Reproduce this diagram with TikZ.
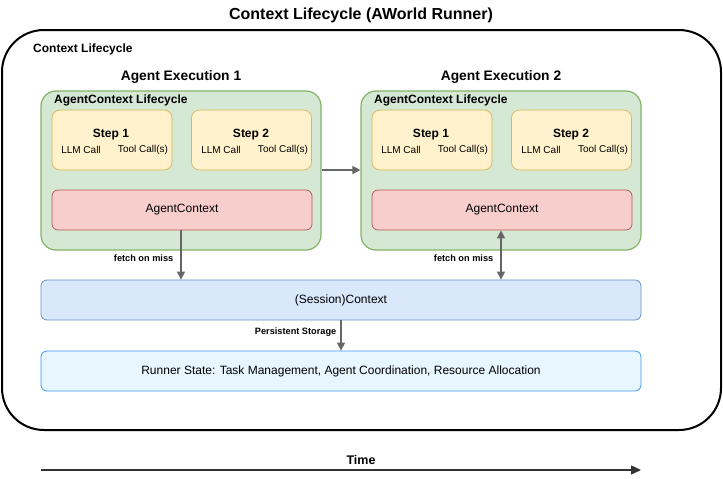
\documentclass[tikz,border=0pt]{standalone}
\usepackage{fontspec}
\setmainfont{Liberation Sans}
\usetikzlibrary{arrows.meta,positioning}

\definecolor{agentfill}{HTML}{D5E8D4}
\definecolor{agentline}{HTML}{82B366}
\definecolor{stepfill}{HTML}{FFF2CC}
\definecolor{stepline}{HTML}{D6B656}
\definecolor{ctxfill}{HTML}{F8CECC}
\definecolor{ctxline}{HTML}{B85450}
\definecolor{sessfill}{HTML}{DAE8FC}
\definecolor{sessline}{HTML}{6C8EBF}
\definecolor{runfill}{HTML}{E8F6FF}
\definecolor{runline}{HTML}{3D97F0}
\definecolor{flowgray}{HTML}{666666}

\tikzset{
  agentbox/.style={draw=agentline, fill=agentfill, line width=1.2pt, rounded corners=15pt,
    minimum width=280pt, minimum height=159pt, inner sep=0pt},
  stepbox/.style={draw=stepline, fill=stepfill, line width=0.7pt, rounded corners=8pt,
    minimum width=120pt, minimum height=60pt, inner sep=0pt},
  ctxbox/.style={draw=ctxline, fill=ctxfill, line width=0.7pt, rounded corners=6pt,
    minimum width=260pt, minimum height=40pt, font=\fontsize{12}{14}\selectfont},
  widebox/.style={line width=0.8pt, rounded corners=6pt,
    minimum width=600pt, minimum height=40pt, font=\fontsize{12}{14}\selectfont},
  flow/.style={draw=flowgray, line width=1.5pt, -{Triangle[length=8pt,width=8pt]}},
  steptitle/.style={font=\bfseries\fontsize{12}{14}\selectfont},
  steptext/.style={font=\fontsize{10}{12}\selectfont},
  heading/.style={font=\bfseries\fontsize{13.8}{16}\selectfont},
  small/.style={font=\bfseries\fontsize{9.2}{11}\selectfont, inner sep=1pt},
  boxlabel/.style={font=\bfseries\fontsize{12}{14}\selectfont, anchor=west, inner sep=0pt}
}

\begin{document}
\begin{tikzpicture}[x=1pt,y=-1pt]
  \useasboundingbox (0,0) rectangle (723,479);

  % title and outer frame
  \node[font=\bfseries\fontsize{16}{19}\selectfont] (title) at (361,15) {Context Lifecycle (AWorld Runner)};
  \draw[line width=2pt, rounded corners=42pt] (2,30) rectangle (721,430);
  \node[boxlabel] (frame) at (33,49) {Context Lifecycle};

  % agent executions
  \node[heading] (head1) at (181,77) {Agent Execution 1};
  \node[heading] (head2) at (501,77) {Agent Execution 2};

  \node[agentbox] (ag1) at (181,170.5) {};
  \node[agentbox] (ag2) at (501,170.5) {};
  \node[boxlabel] (lc1) at (54,100) {AgentContext Lifecycle};
  \node[boxlabel] (lc2) at (374,100) {AgentContext Lifecycle};

  \foreach \ex/\x in {1/0,2/320} {
    \node[stepbox] (s\ex a) at (112+\x,140) {};
    \node[stepbox] (s\ex b) at (251.5+\x,140) {};
    \node[steptitle] at (111+\x,135) {Step 1};
    \node[steptext] at (81+\x,150) {LLM Call};
    \node[steptext] at (143+\x,150) {Tool Call(s)};
    \node[steptitle] at (251+\x,135) {Step 2};
    \node[steptext] at (221+\x,150) {LLM Call};
    \node[steptext] at (283+\x,150) {Tool Call(s)};
    \node[ctxbox] (ctx\ex) at (182+\x,210) {AgentContext};
  }

  % session and runner state
  \node[widebox, draw=sessline, fill=sessfill] (sess) at (341,300) {(Session)Context};
  \node[widebox, draw=runline, fill=runfill] (run) at (341,371) {Runner State: Task Management, Agent Coordination, Resource Allocation};

  % connectors
  \draw[flow] (ag1.east |- 0,170) -- (ag2.west |- 0,170);
  \draw[flow] (ctx1.south -| 181,0) -- (sess.north -| 181,0)
    node[small, pos=0.56, left=6pt] {fetch on miss};
  \draw[flow, {Triangle[length=8pt,width=8pt]}-{Triangle[length=8pt,width=8pt]}] (ctx2.south -| 501,0) -- (sess.north -| 501,0)
    node[small, pos=0.56, left=6pt] {fetch on miss};
  \draw[flow] (sess.south -| 341,0) -- (run.north -| 341,0)
    node[small, pos=0.4, left=3pt] {Persistent Storage};

  % time axis
  \coordinate (t0) at (41,470);
  \coordinate (t1) at (641,470);
  \draw[draw=black!80, line width=1.5pt, -{Triangle[length=10pt,width=9pt]}] (t0) -- (t1);
  \node[font=\bfseries\fontsize{12.5}{15}\selectfont] (time) at (361,460) {Time};
\end{tikzpicture}
\end{document}
